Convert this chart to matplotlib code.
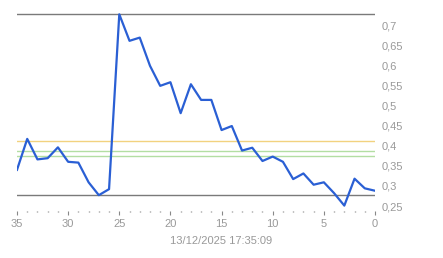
import matplotlib
matplotlib.use("Agg")
import matplotlib.pyplot as plt
from matplotlib.ticker import MultipleLocator, FuncFormatter

# Data: x = periods ago (35 .. 0)
x_vals = list(range(35, -1, -1))
y_vals = [0.340, 0.417, 0.366, 0.369, 0.396, 0.360, 0.358, 0.309, 0.277, 0.292,
          0.727, 0.661, 0.669, 0.599, 0.549, 0.558, 0.481, 0.553, 0.514, 0.514,
          0.439, 0.449, 0.388, 0.395, 0.362, 0.373, 0.360, 0.317, 0.331, 0.303,
          0.309, 0.282, 0.251, 0.318, 0.294, 0.288]

max_level = 0.727
min_level = 0.277
yellow_level = 0.412
green_levels = [0.386, 0.374]

y_ticks = [0.25, 0.3, 0.35, 0.4, 0.45, 0.5, 0.55, 0.6, 0.65, 0.7]
x_major = [35, 30, 25, 20, 15, 10, 5, 0]
timestamp = "13/12/2025 17:35:09"

plt.rcParams['font.family'] = ['Liberation Sans', 'DejaVu Sans']
fig = plt.figure(figsize=(4.43, 2.58), dpi=100)
ax = fig.add_axes([17/443, (258-211)/258, (375-17)/443, (211-10)/258])

gray = '#999999'
ax.axhline(max_level, color='#7a7a7a', lw=1.0, zorder=2)
ax.axhline(min_level, color='#7a7a7a', lw=1.0, zorder=2)
ax.axhline(yellow_level, color='#f2d27f', lw=1.0, zorder=2)
for g in green_levels:
    ax.axhline(g, color='#b3dea3', lw=1.0, zorder=2)

ax.plot(x_vals, y_vals, color='#2a5fd4', lw=1.6, zorder=3)

ax.set_xlim(35, 0)
ax.set_ylim(0.2376, 0.7377)

for s in ax.spines.values():
    s.set_visible(False)

ax.yaxis.tick_right()
ax.set_yticks(y_ticks)
ax.yaxis.set_major_formatter(FuncFormatter(lambda v, p: f"{v:g}".replace('.', ',')))
ax.tick_params(axis='y', length=0, pad=5, labelsize=8, labelcolor=gray)
for lab in ax.get_yticklabels():
    lab.set_horizontalalignment('left')

ax.set_xticks(x_major)
ax.xaxis.set_minor_locator(MultipleLocator(1))
ax.tick_params(axis='x', which='major', direction='out', length=3, width=0.8,
               color='#888888', pad=3, labelsize=8, labelcolor=gray)
ax.tick_params(axis='x', which='minor', direction='out', length=1, width=1,
               color='#888888')

fig.text(221.5/443, 1 - 240.7/258, timestamp, ha='center', va='center',
         fontsize=8, color=gray)

fig.savefig('out.png', dpi=100)
